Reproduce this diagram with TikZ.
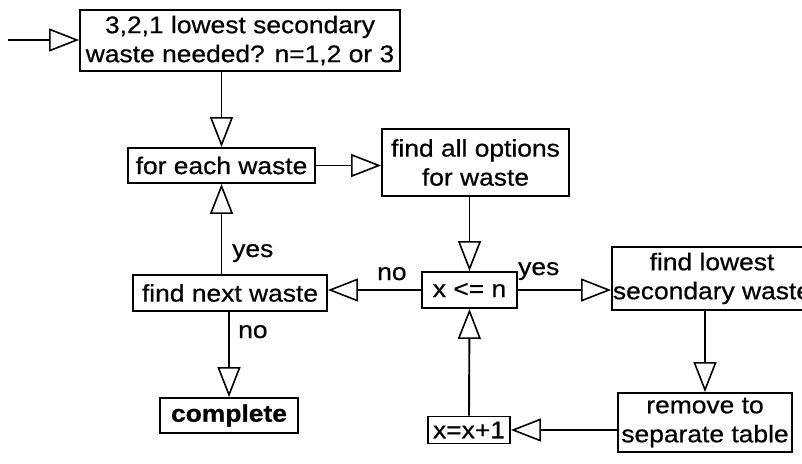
\documentclass[tikz,border=0pt]{standalone}
\usepackage{fontspec}
\setmainfont{Liberation Sans}[FakeStretch=1.1, FakeBold=0.6]
\usetikzlibrary{arrows.meta}

\tikzset{
  box/.style={draw, line width=1.9pt, inner sep=0pt, align=center,
              font=\fontsize{24}{29}\selectfont},
  lbl/.style={inner sep=0pt, font=\fontsize{24}{29}\selectfont},
  flow/.style={line width=1.9pt,
               -{Triangle[open, length=30pt, width=23pt, line width=1.6pt]}}
}

\begin{document}
\begin{tikzpicture}[x=1pt, y=-1pt]
  \clip (0,0) rectangle (802,463);

  % process boxes
  \node[box, minimum width=320pt, minimum height=61pt] (top) at (240,40.5)
    {3,2,1 lowest secondary\\waste needed? n=1,2 or 3};
  \node[box, minimum width=187pt, minimum height=35pt] (foreach) at (221.5,165.5)
    {for each waste};
  \node[box, minimum width=187pt, minimum height=67pt] (findall) at (475.5,162.5)
    {find all options\\for waste};
  \node[box, minimum width=95pt, minimum height=36pt] (xlen) at (469.5,290)
    {x <= n};
  \node[box, minimum width=200pt, minimum height=63pt] (findlow) at (712,278.5)
    {find lowest\\secondary waste};
  \node[box, minimum width=174pt, minimum height=59pt] (remove) at (705,422.5)
    {remove to\\separate table};
  \node[box, minimum width=82pt, minimum height=27pt] (xinc) at (469,430)
    {x=x+1};
  \node[box, minimum width=194pt, minimum height=36pt] (findnext) at (230,293)
    {find next waste};
  \node[box, minimum width=138pt, minimum height=35pt] (complete) at (229,415.5)
    {\bfseries complete};

  % entry point
  \coordinate (start) at (8,40);

  % connectors
  \draw[flow] (start) -- (top.west |- start);
  \draw[flow] (foreach.north |- top.south) -- (foreach.north);
  \draw[flow] (foreach.east) -- (findall.west |- foreach.east);
  \draw[flow] (xlen.north |- findall.south) -- (xlen.north);
  \draw[flow] (xlen.east) -- (findlow.west |- xlen.east);
  \draw[flow] (remove.north |- findlow.south) -- (remove.north);
  \draw[flow] (remove.west |- xinc.east) -- (xinc.east);
  \draw[flow] (xinc.north) -- (xlen.south);
  \draw[flow] (xlen.west) -- (findnext.east |- xlen.west);
  \draw[flow] (foreach.south |- findnext.north) -- (foreach.south);
  \draw[flow] (complete.north |- findnext.south) -- (complete.north);

  % branch labels
  \node[lbl, anchor=base west] (yesup) at (232,257) {yes};
  \node[lbl, anchor=base west] (noleft) at (377,280) {no};
  \node[lbl, anchor=base west] (yesright) at (518,275) {yes};
  \node[lbl, anchor=base west] (nodown) at (238,338) {no};
\end{tikzpicture}
\end{document}
